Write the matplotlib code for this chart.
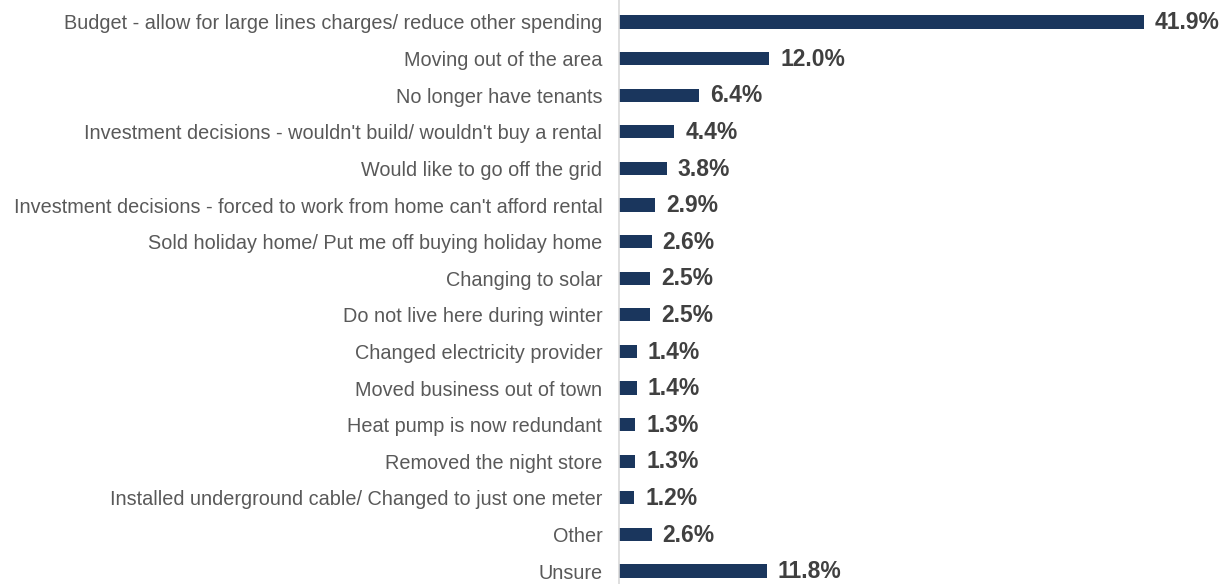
import matplotlib.pyplot as plt
import numpy as np

plt.rcParams['font.family'] = ['Liberation Sans', 'DejaVu Sans']

categories = [
    "Budget - allow for large lines charges/ reduce other spending",
    "Moving out of the area",
    "No longer have tenants",
    "Investment decisions - wouldn't build/ wouldn't buy a rental",
    "Would like to go off the grid",
    "Investment decisions - forced to work from home can't afford rental",
    "Sold holiday home/ Put me off buying holiday home",
    "Changing to solar",
    "Do not live here during winter",
    "Changed electricity provider",
    "Moved business out of town",
    "Heat pump is now redundant",
    "Removed the night store",
    "Installed underground cable/ Changed to just one meter",
    "Other",
    "Unsure",
]
shares = [41.9, 12.0, 6.4, 4.4, 3.8, 2.9, 2.6, 2.5, 2.5, 1.4, 1.4, 1.3, 1.3, 1.2, 2.6, 11.8]

bar_color = '#1a365d'
label_color = '#595959'
value_color = '#404040'

fig = plt.figure(figsize=(12.29, 5.84), dpi=100)
ax = fig.add_axes([619 / 1229, 0, 1 - 619 / 1229, 1])

y = np.arange(len(categories))
bars = ax.barh(y, shares, height=0.36, color=bar_color)

for bar, val in zip(bars, shares):
    ax.annotate(f'{val:.1f}%', xy=(bar.get_width(), bar.get_y() + bar.get_height() / 2),
                xytext=(8, -0.5), textcoords='offset points',
                ha='left', va='center', fontsize=16.5, fontweight='bold', color=value_color)

ax.set_xlim(0, 48.7)
ax.set_ylim(15.355, -0.601)
ax.set_yticks(y)
ax.set_yticklabels(categories, fontsize=14.3, color=label_color)
ax.tick_params(axis='y', length=0, pad=12)
ax.set_xticks([])

for side in ['top', 'right', 'bottom']:
    ax.spines[side].set_visible(False)
ax.spines['left'].set_color('#d9d9d9')
ax.spines['left'].set_linewidth(1.2)

fig.savefig('out.png', dpi=100)
